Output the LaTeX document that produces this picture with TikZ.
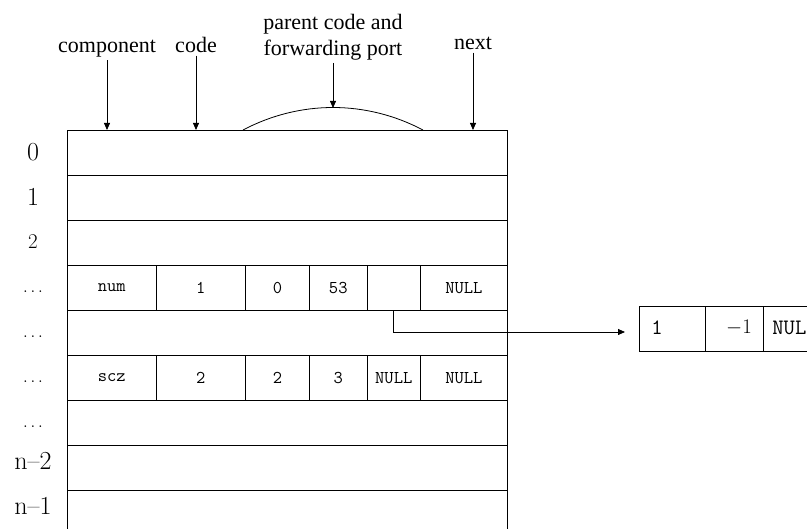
\documentclass[tikz,border=0pt]{standalone}
\usepackage{fontspec}
\newfontfamily\tnr{Liberation Serif}
\usetikzlibrary{arrows.meta}
\begin{document}
\begin{tikzpicture}[x=1pt,y=-1pt,
  line width=0.8pt,
  toplab/.style={font=\tnr\fontsize{22}{26}\selectfont, inner sep=2pt},
  idx/.style={font=\fontsize{26}{28}\selectfont, inner sep=0pt},
  rowbox/.style={draw, anchor=north west, minimum width=440pt, minimum height=45pt, inner sep=0pt},
  cell/.style={draw, anchor=north west, minimum height=45pt, inner sep=0pt, font=\ttfamily\fontsize{18}{20}\selectfont},
  rcell/.style={draw, anchor=north west, minimum height=45pt, inner sep=0pt},
  rtext/.style={font=\ttfamily\fontsize{22}{24}\selectfont, inner sep=0pt},
  arr/.style={-{Triangle[length=7pt,width=6pt]}}
]
\useasboundingbox (0,0) rectangle (807,529);
\clip (0,0) rectangle (807,529);

% full rows
\foreach \i in {0,1,2,4,6,7,8,9}
  \node[rowbox] (row\i) at (67,{130+45*\i}) {};

% row 3 cells
\node[cell, minimum width=88.7pt] (a0) at (67,265) {num};
\node[cell, minimum width=89.3pt] (a1) at (155.7,265) {1};
\node[cell, minimum width=64pt]   (a2) at (245,265) {0};
\node[cell, minimum width=57.7pt] (a3) at (309,265) {53};
\node[cell, minimum width=53.3pt] (a4) at (366.7,265) {};
\node[cell, minimum width=87pt]   (a5) at (420,265) {NULL};

% row 5 cells
\node[cell, minimum width=88.7pt] (s0) at (67,355) {scz};
\node[cell, minimum width=89.3pt] (s1) at (155.7,355) {2};
\node[cell, minimum width=64pt]   (s2) at (245,355) {2};
\node[cell, minimum width=57.7pt] (s3) at (309,355) {3};
\node[cell, minimum width=53.3pt] (s4) at (366.7,355) {NULL};
\node[cell, minimum width=87pt]   (s5) at (420,355) {NULL};

% right list element
\node[rcell, minimum width=66pt] (b0) at (639,305.7) {};
\node[rcell, minimum width=58pt] (b1) at (705,305.7) {};
\node[rcell, minimum width=64pt] (b2) at (763,305.7) {};
\node[rtext] (t0) at (657,328) {1};
\node[rtext] (t1) at (739,328) {$-1$};
\node[rtext] (t2) at (795,328) {NULL};

\coordinate (tip) at (625,332);
\draw[arr] (a4.south) |- (tip);

% row index labels
\node[idx] (l0) at (33,152) {0};
\node[idx] (l1) at (33,197) {1};
\node[idx, font=\fontsize{21}{24}\selectfont] (l2) at (33,242) {2};
\node[idx, anchor=base, font=\fontsize{18}{20}\selectfont] (l3) at (33,293) {$\ldots$};
\node[idx, anchor=base, font=\fontsize{18}{20}\selectfont] (l4) at (33,338) {$\ldots$};
\node[idx, anchor=base, font=\fontsize{18}{20}\selectfont] (l5) at (33,383) {$\ldots$};
\node[idx, anchor=base, font=\fontsize{18}{20}\selectfont] (l6) at (33,428) {$\ldots$};
\node[idx] (l8) at (33,461) {n--2};
\node[idx] (l9) at (33,506) {n--1};

% top labels
\node[toplab, anchor=base] (comp) at (107,53) {component};
\node[toplab, anchor=base] (code) at (196,53) {code};
\node[toplab, anchor=base] (next) at (473,50) {next};
\node[toplab, align=center, anchor=south] (par) at (333,63) {parent code and\\forwarding port};

\draw[arr] (comp.south) -- (comp.south |- row0.north);
\draw[arr] (code.south) -- (code.south |- row0.north);
\draw[arr] (next.south) -- (next.south |- row0.north);

\coordinate (arcL) at (243,130);
\coordinate (arcR) at (423,130);
\coordinate (peak) at (333,108);
\draw (arcL) .. controls (300,100) and (366,100) .. (arcR);
\draw[arr] (par.south) -- (peak);
\end{tikzpicture}
\end{document}
